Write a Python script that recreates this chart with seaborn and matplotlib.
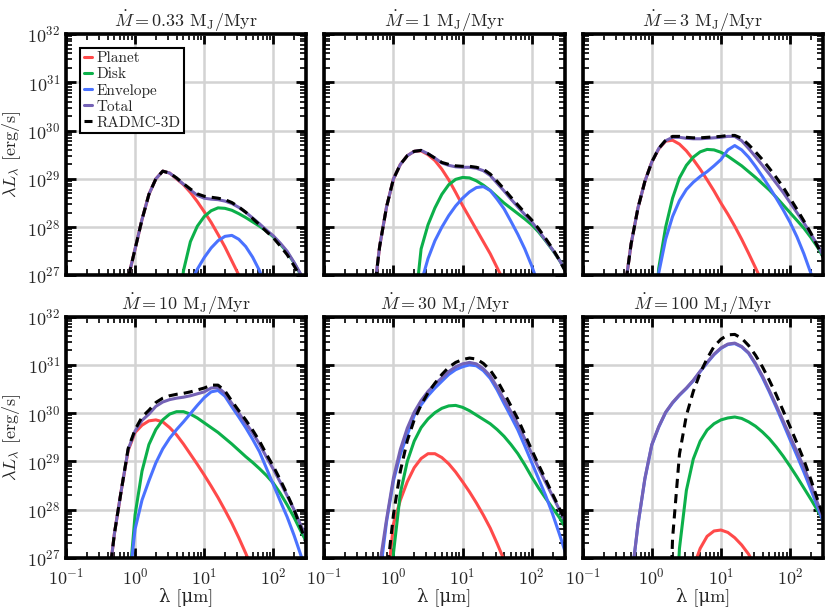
import numpy as np
import matplotlib
matplotlib.use("Agg")
import matplotlib.pyplot as plt
import seaborn as sns

# log10 of wavelength [micron], shared by every curve (-0.4 ... 2.6, step 0.1)
LOG_LAM = [-0.4, -0.3, -0.2, -0.1, 0.0, 0.1, 0.2, 0.3, 0.4, 0.5, 0.6, 0.7, 0.8, 0.9, 1.0,
           1.1, 1.2, 1.3, 1.4, 1.5, 1.6, 1.7, 1.8, 1.9, 2.0, 2.1, 2.2, 2.3, 2.4, 2.5, 2.6]

MDOT = ["0.33", "1", "3", "10", "30", "100"]

# log10(lambda L_lambda) [erg/s], one list per panel
PLANET = [
    [24.5, 25.5, 26.3, 26.95, 27.55, 28.16, 28.68, 29.0, 29.16, 29.12, 29.0, 28.88, 28.72, 28.53, 28.32,
     28.1, 27.85, 27.59, 27.3, 27.01, 26.7, 26.35, 26.0, 25.6, 25.2, 24.8, 24.4, 23.95, 23.5, 23.05, 22.6],
    [25.0, 26.4, 27.6, 28.42, 29.0, 29.3, 29.48, 29.57, 29.58, 29.5, 29.38, 29.2, 28.98, 28.72, 28.45,
     28.2, 27.95, 27.7, 27.45, 27.16, 26.87, 26.55, 26.2, 25.85, 25.5, 25.1, 24.7, 24.3, 23.9, 23.45, 23.0],
    [26.6, 27.65, 28.4, 28.95, 29.35, 29.62, 29.78, 29.8, 29.72, 29.58, 29.4, 29.2, 28.98, 28.75, 28.5,
     28.27, 28.02, 27.75, 27.46, 27.16, 26.85, 26.53, 26.2, 25.85, 25.5, 25.1, 24.7, 24.3, 23.9, 23.45, 23.0],
    [26.3, 27.5, 28.4, 29.23, 29.6, 29.75, 29.84, 29.86, 29.82, 29.7, 29.55, 29.36, 29.15, 28.94, 28.72,
     28.49, 28.25, 27.99, 27.72, 27.42, 27.1, 26.76, 26.4, 26.0, 25.6, 25.2, 24.8, 24.4, 24.0, 23.55, 23.1],
    [20.0, 21.0, 24.0, 26.3, 27.7, 28.2, 28.58, 28.87, 29.06, 29.16, 29.16, 29.08, 28.95, 28.78, 28.58,
     28.37, 28.14, 27.89, 27.62, 27.3, 26.96, 26.6, 26.2, 25.8, 25.4, 25.0, 24.6, 24.2, 23.8, 23.4, 23.0],
    [20.0, 20.0, 20.0, 20.0, 20.0, 20.0, 20.0, 20.0, 25.5, 26.2, 26.8, 27.2, 27.45, 27.56, 27.58,
     27.53, 27.42, 27.27, 27.08, 26.82, 26.5, 26.1, 25.7, 25.25, 24.8, 24.3, 23.8, 23.3, 22.8, 22.3, 21.8],
]
DISK = [
    [20.0, 20.0, 20.0, 20.0, 20.0, 20.0, 20.0, 20.0, 22.0, 24.0, 25.8, 27.1, 27.7, 28.02, 28.22,
     28.34, 28.4, 28.39, 28.35, 28.28, 28.2, 28.11, 28.02, 27.92, 27.8, 27.65, 27.48, 27.26, 27.0, 26.72, 26.4],
    [20.0, 20.0, 20.0, 20.0, 20.0, 20.0, 24.5, 26.2, 27.55, 28.05, 28.4, 28.68, 28.88, 28.99, 29.03,
     29.02, 28.96, 28.87, 28.76, 28.63, 28.5, 28.39, 28.28, 28.17, 28.05, 27.9, 27.72, 27.53, 27.32, 27.08, 26.8],
    [20.0, 20.0, 20.0, 22.0, 25.3, 27.15, 28.0, 28.6, 29.02, 29.28, 29.45, 29.56, 29.61, 29.6, 29.55,
     29.47, 29.37, 29.27, 29.15, 29.03, 28.9, 28.77, 28.62, 28.46, 28.3, 28.14, 27.98, 27.79, 27.58, 27.33, 27.05],
    [20.0, 20.0, 23.5, 26.2, 27.9, 28.8, 29.35, 29.66, 29.86, 29.98, 30.03, 30.03, 29.98, 29.9, 29.8,
     29.7, 29.6, 29.48, 29.36, 29.23, 29.1, 28.98, 28.85, 28.71, 28.55, 28.34, 28.1, 27.84, 27.55, 27.28, 27.0],
    [20.0, 20.0, 22.0, 24.5, 27.1, 28.35, 29.0, 29.42, 29.7, 29.88, 30.01, 30.1, 30.15, 30.16, 30.12,
     30.05, 29.96, 29.87, 29.78, 29.66, 29.52, 29.35, 29.16, 28.93, 28.68, 28.45, 28.24, 28.04, 27.84, 27.6, 27.35],
    [20.0, 20.0, 20.0, 20.0, 20.0, 20.0, 21.0, 24.5, 27.2, 28.4, 29.05, 29.42, 29.65, 29.78, 29.86,
     29.9, 29.92, 29.89, 29.82, 29.73, 29.61, 29.47, 29.3, 29.11, 28.9, 28.68, 28.45, 28.22, 27.98, 27.74, 27.5],
]
ENVELOPE = [
    [20.0, 20.0, 20.0, 20.0, 20.0, 20.0, 20.0, 20.0, 23.5, 24.5, 25.4, 26.2, 26.85, 27.13, 27.37,
     27.57, 27.72, 27.81, 27.83, 27.75, 27.6, 27.38, 27.1, 26.7, 26.2, 25.6, 25.0, 24.3, 23.5, 22.8, 22.0],
    [20.0, 20.0, 20.0, 20.0, 20.0, 20.0, 24.5, 25.8, 26.85, 27.35, 27.72, 28.0, 28.24, 28.44, 28.6,
     28.73, 28.82, 28.84, 28.76, 28.58, 28.38, 28.12, 27.85, 27.55, 27.2, 26.8, 26.15, 25.6, 25.0, 24.4, 23.8],
    [20.0, 20.0, 20.0, 22.0, 25.3, 27.05, 27.75, 28.22, 28.55, 28.78, 28.93, 29.05, 29.15, 29.27, 29.4,
     29.6, 29.69, 29.6, 29.45, 29.26, 29.05, 28.83, 28.6, 28.36, 28.1, 27.8, 27.45, 27.05, 26.6, 26.1, 25.5],
    [20.0, 20.0, 23.5, 26.3, 27.6, 28.2, 28.6, 28.97, 29.26, 29.48, 29.66, 29.82, 29.99, 30.16, 30.32,
     30.44, 30.47, 30.35, 30.13, 29.92, 29.7, 29.46, 29.2, 28.86, 28.52, 28.18, 27.85, 27.47, 27.05, 26.6, 26.1],
    [22.0, 24.8, 26.6, 27.75, 28.6, 29.15, 29.55, 29.95, 30.17, 30.36, 30.52, 30.66, 30.8, 30.9, 30.96,
     31.0, 30.98, 30.88, 30.72, 30.48, 30.2, 29.93, 29.65, 29.32, 28.98, 28.64, 28.3, 27.92, 27.5, 27.06, 26.6],
    [24.99, 26.49, 27.69, 28.64, 29.34, 29.71, 30.01, 30.21, 30.37, 30.51, 30.67, 30.86, 31.04, 31.21, 31.34,
     31.42, 31.44, 31.37, 31.24, 31.01, 30.74, 30.44, 30.12, 29.79, 29.45, 29.12, 28.78, 28.42, 28.05, 27.68, 27.3],
]
TOTAL = [
    [24.5, 25.5, 26.3, 26.95, 27.55, 28.16, 28.68, 29.0, 29.16, 29.12, 29.01, 28.89, 28.77, 28.66, 28.6,
     28.58, 28.57, 28.54, 28.49, 28.41, 28.31, 28.19, 28.07, 27.94, 27.82, 27.67, 27.5, 27.27, 27.02, 26.73, 26.42],
    [25.0, 26.4, 27.6, 28.42, 29.0, 29.3, 29.48, 29.57, 29.59, 29.52, 29.43, 29.33, 29.28, 29.25, 29.24,
     29.24, 29.22, 29.17, 29.07, 28.91, 28.75, 28.58, 28.42, 28.26, 28.11, 27.93, 27.73, 27.54, 27.32, 27.08, 26.8],
    [26.6, 27.65, 28.4, 28.95, 29.35, 29.63, 29.79, 29.86, 29.86, 29.84, 29.83, 29.83, 29.84, 29.85, 29.86,
     29.88, 29.88, 29.79, 29.63, 29.46, 29.28, 29.1, 28.91, 28.72, 28.51, 28.3, 28.09, 27.86, 27.62, 27.36, 27.07],
    [26.3, 27.5, 28.4, 29.25, 29.63, 29.85, 29.98, 30.14, 30.23, 30.28, 30.31, 30.33, 30.36, 30.4, 30.44,
     30.52, 30.53, 30.41, 30.2, 30.0, 29.8, 29.59, 29.36, 29.09, 28.84, 28.57, 28.29, 28.0, 27.67, 27.36, 27.05],
    [22.0, 24.8, 26.85, 27.8, 28.66, 29.25, 29.69, 30.02, 30.26, 30.45, 30.6, 30.73, 30.86, 30.96, 31.02,
     31.05, 31.02, 30.92, 30.77, 30.54, 30.28, 30.03, 29.77, 29.47, 29.16, 28.86, 28.57, 28.29, 28.0, 27.71, 27.42],
    [25.0, 26.5, 27.7, 28.65, 29.35, 29.72, 30.02, 30.22, 30.38, 30.52, 30.68, 30.87, 31.05, 31.22, 31.35,
     31.43, 31.45, 31.38, 31.25, 31.03, 30.77, 30.47, 30.16, 29.84, 29.52, 29.2, 28.88, 28.52, 28.13, 27.75, 27.38],
]
RADMC = [
    [24.5, 25.5, 26.3, 26.95, 27.55, 28.16, 28.68, 29.0, 29.16, 29.12, 29.02, 28.9, 28.79, 28.69, 28.64,
     28.62, 28.6, 28.57, 28.51, 28.42, 28.31, 28.18, 28.05, 27.91, 27.78, 27.61, 27.43, 27.2, 26.95, 26.65, 26.3],
    [25.0, 26.4, 27.6, 28.42, 29.0, 29.3, 29.48, 29.57, 29.59, 29.52, 29.43, 29.34, 29.3, 29.27, 29.26,
     29.26, 29.24, 29.2, 29.1, 28.95, 28.79, 28.62, 28.46, 28.3, 28.15, 27.97, 27.77, 27.56, 27.32, 27.05, 26.75],
    [26.6, 27.65, 28.4, 28.95, 29.35, 29.63, 29.8, 29.88, 29.88, 29.86, 29.85, 29.85, 29.86, 29.87, 29.88,
     29.9, 29.9, 29.84, 29.71, 29.56, 29.4, 29.22, 29.03, 28.83, 28.6, 28.37, 28.13, 27.88, 27.6, 27.32, 27.0],
    [26.3, 27.5, 28.4, 29.27, 29.66, 29.92, 30.06, 30.22, 30.31, 30.36, 30.39, 30.41, 30.44, 30.48, 30.52,
     30.58, 30.58, 30.46, 30.25, 30.05, 29.86, 29.65, 29.42, 29.15, 28.9, 28.62, 28.32, 28.0, 27.62, 27.2, 26.7],
    [20.0, 22.0, 24.5, 26.6, 27.9, 28.8, 29.43, 29.86, 30.17, 30.42, 30.62, 30.8, 30.95, 31.05, 31.11,
     31.14, 31.12, 31.03, 30.89, 30.68, 30.42, 30.15, 29.88, 29.56, 29.24, 28.93, 28.63, 28.33, 28.03, 27.72, 27.4],
    [20.0, 20.0, 20.0, 20.0, 20.0, 20.0, 23.0, 27.4, 29.15, 29.95, 30.45, 30.83, 31.13, 31.38, 31.53,
     31.62, 31.63, 31.55, 31.4, 31.2, 30.96, 30.68, 30.38, 30.05, 29.72, 29.38, 29.03, 28.63, 28.2, 27.8, 27.4],
]

SERIES = [
    ("Planet", PLANET, "#FF4A4A", "-"),
    ("Disk", DISK, "#0CB04A", "-"),
    ("Envelope", ENVELOPE, "#4A72FF", "-"),
    ("Total", TOTAL, "#7462B6", "-"),
    ("RADMC-3D", RADMC, "black", (0, (3, 2))),
]

sns.set_style("ticks")
plt.rcParams.update({
    "font.family": ["cmr10", "DejaVu Serif"],
    "mathtext.fontset": "cm",
    "axes.formatter.use_mathtext": True,
    "axes.unicode_minus": False,
    "font.size": 13,
})

lam = 10 ** np.array(LOG_LAM)

fig, axes = plt.subplots(2, 3, figsize=(8.3, 6.09), dpi=100, sharex=True, sharey=True)
plt.subplots_adjust(left=0.0795, right=0.9916, bottom=0.0837, top=0.9442,
                    wspace=0.075, hspace=0.17)

for k, ax in enumerate(axes.flat):
    for name, data, color, ls in SERIES:
        sns.lineplot(x=lam, y=10 ** np.array(data[k]), ax=ax, color=color,
                     linestyle=ls, lw=2.2, label=name if k == 0 else None)

    ax.set_xscale("log")
    ax.set_yscale("log")
    ax.set_xlim(0.1, 300)
    ax.set_ylim(1e27, 1e32)
    ax.set_axisbelow(True)
    ax.grid(True, which="major", color="#d3d3d3", lw=1.8)
    ax.tick_params(which="both", direction="in", top=True, right=True,
                   labelsize=13, color="black")
    ax.tick_params(which="major", length=7, width=2)
    ax.tick_params(which="minor", length=4, width=1.2)
    ax.tick_params(axis="x", which="both", pad=6)
    ax.tick_params(axis="y", which="both", pad=4)
    for sp in ax.spines.values():
        sp.set_linewidth(2.6)
        sp.set_color("black")
    ax.set_title(r"$\dot{M} = %s\ \mathrm{M_J/Myr}$" % MDOT[k], fontsize=13, pad=5)

for ax in axes[:, 0]:
    ax.set_ylabel(r"$\lambda L_\lambda$ [erg/s]", fontsize=13, labelpad=3)
for ax in axes[1, :]:
    ax.set_xlabel("\u03bb [\u03bcm]", fontsize=13, labelpad=0)

leg = axes[0, 0].legend(loc="upper left", fontsize=11, handlelength=0.55,
                        handletextpad=0.3, labelspacing=0.15, borderpad=0.25,
                        borderaxespad=0.9, fancybox=False, framealpha=1)
leg.get_frame().set_edgecolor("black")
leg.get_frame().set_linewidth(1.5)

fig.savefig("out.png", dpi=100)
